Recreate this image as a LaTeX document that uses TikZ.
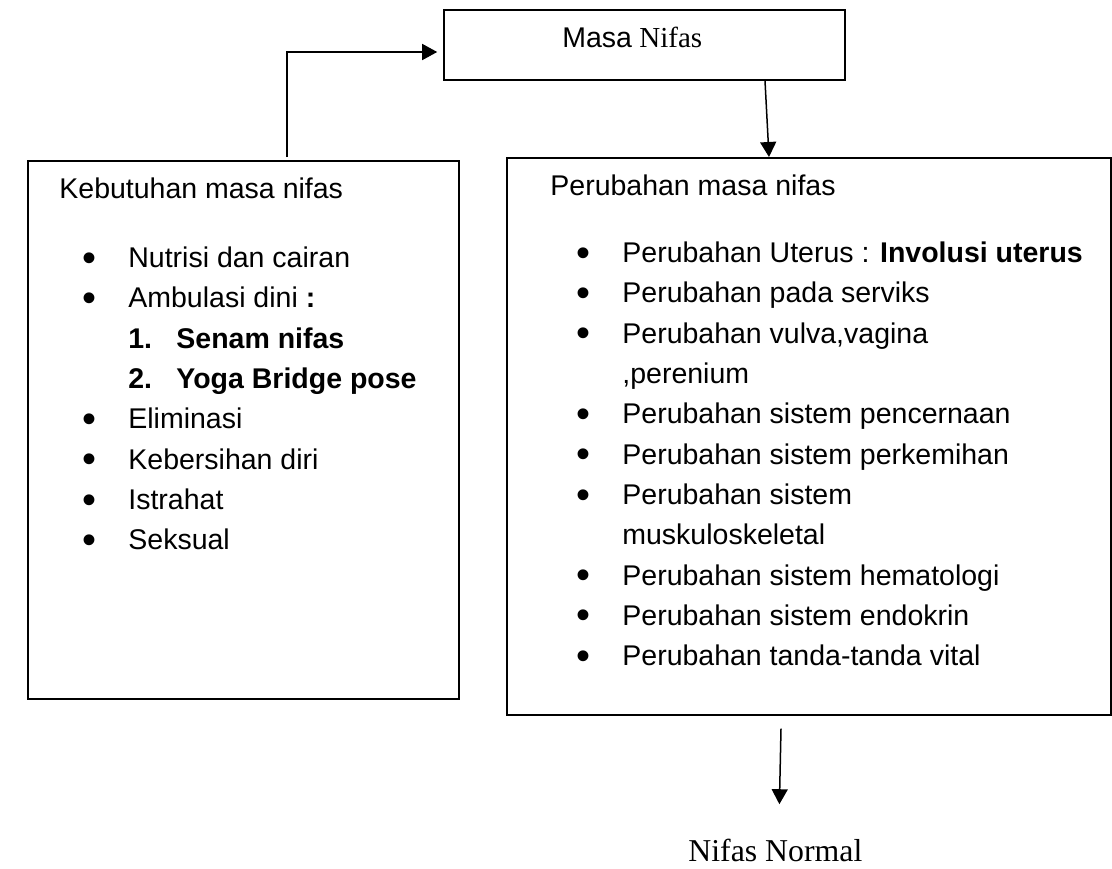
\documentclass[tikz,border=0pt]{standalone}
\usepackage{fontspec}
\usepackage{graphicx}
\setmainfont{Liberation Serif}
\newfontfamily\arial{Liberation Sans}
\usetikzlibrary{arrows.meta, positioning, calc}

\newcommand{\blt}[1]{\makebox[23pt][l]{\raisebox{-1.8pt}{\scalebox{1.4}{\textbullet}}}#1}
\newcommand{\sub}[1]{\hspace*{23pt}#1}
\newcommand{\numitem}[2]{\hspace*{23pt}\makebox[24pt][l]{\textbf{#1}}\textbf{#2}}

\begin{document}
\begin{tikzpicture}[x=0.5pt,y=-0.5pt,>={Triangle[length=7.5pt,width=8pt]},box/.style={draw,line width=0.8pt,rectangle,inner sep=0pt},txt/.style={inner sep=0pt,font=\arial\fontsize{14.25}{20.15}\selectfont,align=left},arr/.style={->,line width=0.75pt}]
  \useasboundingbox (0,0) rectangle (1112,868);
  \node[box,minimum width=200.5pt,minimum height=35pt] (masa) at (644.5,45) {};
  \node[inner sep=0pt,anchor=base west,font=\fontsize{14.5}{17}\selectfont] (masaText) at (562,47) {{\arial\fontsize{14.25}{17}\selectfont Masa} Nifas};
  \node[box,anchor=north west,minimum width=215.5pt,minimum height=269pt] (kebutuhan) at (27,160) {};
  \node[box,anchor=north west,minimum width=302pt,minimum height=278.5pt] (perubahan) at (506,157) {};
  % left box
  \node[txt,anchor=base west] (kebTitle) at (59,198) {Kebutuhan masa nifas};
  \node[txt,anchor=north west] (kebList) at (82,246.6) {\blt{Nutrisi dan cairan}\\
    \blt{Ambulasi dini \textbf{:}}\\
    \numitem{1.}{Senam nifas}\\
    \numitem{2.}{Yoga Bridge pose}\\
    \blt{Eliminasi}\\
    \blt{Kebersihan diri}\\
    \blt{Istrahat}\\
    \blt{Seksual}};
  % right box
  \node[txt,anchor=base west] (perTitle) at (550,195) {Perubahan masa nifas};
  \node[txt,anchor=north west] (perList) at (576,241.6) {\blt{Perubahan Uterus : \textbf{Involusi uterus}}\\
    \blt{Perubahan pada serviks}\\
    \blt{Perubahan vulva,vagina}\\
    \sub{,perenium}\\
    \blt{Perubahan sistem pencernaan}\\
    \blt{Perubahan sistem perkemihan}\\
    \blt{Perubahan sistem}\\
    \sub{muskuloskeletal}\\
    \blt{Perubahan sistem hematologi}\\
    \blt{Perubahan sistem endokrin}\\
    \blt{Perubahan tanda-tanda vital}};
  \node[inner sep=0pt,anchor=base west,font=\fontsize{15.9}{18}\selectfont] (normal) at (688,861) {Nifas Normal};
  % arrows
  \draw[arr] ($(kebutuhan.north west)+(260,-3)$) |- ($(masa.west)+(-6,7)$);
  \draw[arr] ($(masa.south)+(120.5,0)$) -- ($(perubahan.north west)+(263,0)$);
  \draw[arr] ($(perubahan.south west)+(275,13)$) -- ($(normal.north)+(4,-34)$);
\end{tikzpicture}
\end{document}
